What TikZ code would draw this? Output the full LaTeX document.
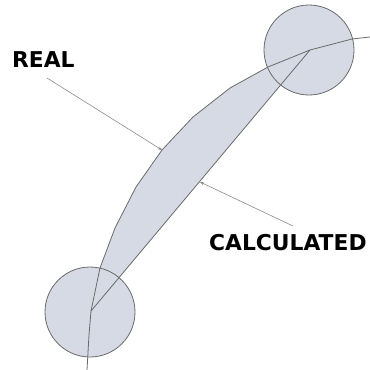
\documentclass[tikz,border=0pt]{standalone}
\usepackage{fontspec}
\setmainfont{DejaVu Sans}
\usetikzlibrary{arrows.meta}
\definecolor{bandfill}{HTML}{D5DAE4}
\definecolor{edge}{HTML}{6A6A6A}
\definecolor{pointer}{HTML}{8A8A8A}
\tikzset{
  disc/.style={circle, draw=edge, fill=bandfill, line width=0.8pt, minimum size=90pt, inner sep=0pt},
  curve/.style={draw=edge, line width=0.8pt, line join=round},
  pointerline/.style={draw=pointer, line width=0.6pt, -{Stealth[length=4pt,width=3pt]}},
  label/.style={font=\fontsize{21.8}{22}\selectfont\bfseries, inner sep=0pt, anchor=base west}
}
\begin{document}
\begin{tikzpicture}[x=1pt,y=-1pt]
\useasboundingbox (0,0) rectangle (370,370);
% key points
\coordinate (b0) at (87,370);
\coordinate (b1) at (89,335);
\coordinate (pA) at (91,311);
\coordinate (r1) at (100,268);
\coordinate (r2) at (115,228);
\coordinate (r3) at (136,187);
\coordinate (r4) at (162,150);
\coordinate (r5) at (193,117);
\coordinate (r6) at (230,88);
\coordinate (r7) at (268,67);
\coordinate (pB) at (310,50);
\coordinate (t1) at (352,39);
\coordinate (t2) at (370,37);
% band between real and calculated
\fill[bandfill] (pA) -- (r1) -- (r2) -- (r3) -- (r4) -- (r5) -- (r6) -- (r7) -- (pB) -- cycle;
% discs
\node[disc] (discA) at (90,312) {};
\node[disc] (discB) at (309,50) {};
% real curve
\draw[curve] (b0) -- (b1) -- (pA) -- (r1) -- (r2) -- (r3) -- (r4) -- (r5) -- (r6) -- (r7) -- (pB) -- (t1) -- (t2);
% calculated line
\draw[curve] (pA) -- (pB);
% labels
\node[label] (real) at (12,67) {REAL};
\node[label] (calc) at (209,250) {CALCULATED};
\coordinate (realtail) at (47,78);
\coordinate (calctail) at (293,226);
\coordinate (calctip) at (200,182);
\draw[pointerline] (realtail) -- (r4);
\draw[pointerline] (calctail) -- (calctip);
\end{tikzpicture}
\end{document}
